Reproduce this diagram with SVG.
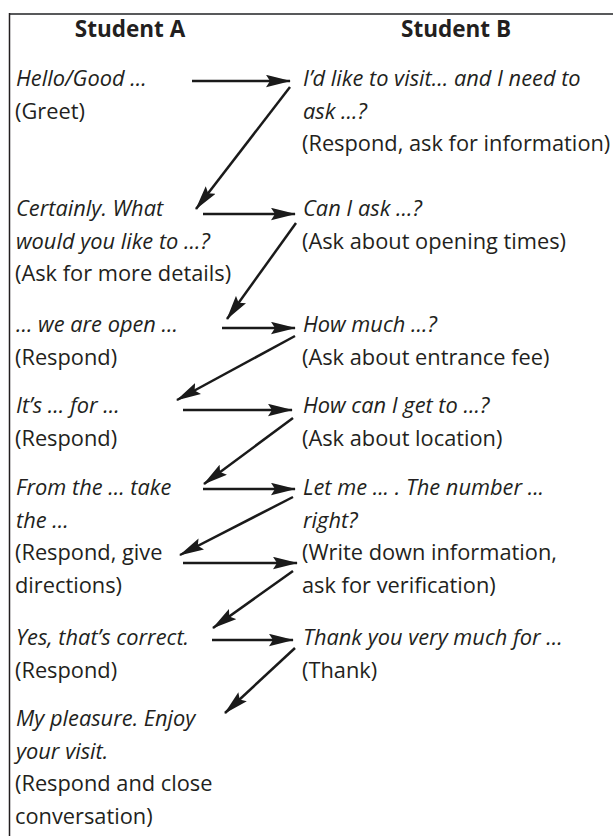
<svg xmlns="http://www.w3.org/2000/svg" width="613" height="836" viewBox="0 0 613 836">
<style>
text{font-family:"Open Sans","Noto Sans","Liberation Sans",sans-serif;font-size:21.8px;fill:#231f20}
.h{font-weight:bold;text-anchor:middle;font-size:22.5px}
.i{font-style:italic}
.c line{stroke:#1a1a1a;stroke-width:2.5;marker-end:url(#ah)}
</style>
<defs>
<marker id="ah" markerUnits="userSpaceOnUse" markerWidth="25" markerHeight="13" viewBox="0 0 25 13" refX="24" refY="6.5" orient="auto">
<path d="M25,6.5 L0,0.3 L4,6.5 L0,12.7 Z" fill="#1a1a1a"/>
</marker>
</defs>
<rect width="613" height="836" fill="#fff"/>
<g id="frame">
<line x1="9" y1="14" x2="613" y2="14" stroke="#58595b" stroke-width="2"/>
<line x1="9.5" y1="13" x2="9.5" y2="836" stroke="#231f20" stroke-width="1.5"/>
</g>
<g id="headers">
<text class="h" x="130" y="37">Student A</text>
<text class="h" x="456" y="37">Student B</text>
</g>
<g id="a1"><text class="i" x="16" y="86">Hello/Good ...</text><text x="15" y="118.5">(Greet)</text></g>
<g id="b1"><text class="i" x="303" y="86">I’d like to visit… and I need to</text><text class="i" x="303" y="118.5">ask ...?</text><text x="302" y="151">(Respond, ask for information)</text></g>
<g id="a2"><text class="i" x="16" y="216">Certainly. What</text><text class="i" x="16" y="248.5">would you like to ...?</text><text x="15" y="281">(Ask for more details)</text></g>
<g id="b2"><text class="i" x="303" y="216">Can I ask ...?</text><text x="302" y="248.5">(Ask about opening times)</text></g>
<g id="a3"><text class="i" x="16" y="332">... we are open ...</text><text x="15" y="364.5">(Respond)</text></g>
<g id="b3"><text class="i" x="303" y="332">How much ...?</text><text x="302" y="364.5">(Ask about entrance fee)</text></g>
<g id="a4"><text class="i" x="16" y="413">It’s ... for ...</text><text x="15" y="445.5">(Respond)</text></g>
<g id="b4"><text class="i" x="303" y="413">How can I get to ...?</text><text x="302" y="445.5">(Ask about location)</text></g>
<g id="a5"><text class="i" x="16" y="495">From the ... take</text><text class="i" x="16" y="527.5">the ...</text><text x="15" y="560">(Respond, give</text><text x="15" y="592.5">directions)</text></g>
<g id="b5"><text class="i" x="303" y="495">Let me ... . The number ...</text><text class="i" x="303" y="527.5">right?</text><text x="302" y="560">(Write down information,</text><text x="302" y="592.5">ask for verification)</text></g>
<g id="a6"><text class="i" x="16" y="645">Yes, that’s correct.</text><text x="15" y="677.5">(Respond)</text></g>
<g id="b6"><text class="i" x="303" y="645">Thank you very much for ...</text><text x="302" y="677.5">(Thank)</text></g>
<g id="a7"><text class="i" x="16" y="726">My pleasure. Enjoy</text><text class="i" x="16" y="758.5">your visit.</text><text x="15" y="791">(Respond and close</text><text x="15" y="823.5">conversation)</text></g>
<g class="c" id="connectors">
<line x1="192" y1="81" x2="290" y2="81"/>
<line x1="290" y1="87" x2="196" y2="209"/>
<line x1="203" y1="214" x2="295" y2="214"/>
<line x1="296" y1="223" x2="227" y2="319"/>
<line x1="222" y1="328" x2="295" y2="328"/>
<line x1="295" y1="336" x2="177" y2="400"/>
<line x1="183" y1="410" x2="292" y2="410"/>
<line x1="293" y1="418" x2="204" y2="484"/>
<line x1="203" y1="489" x2="295" y2="489"/>
<line x1="293" y1="497" x2="180" y2="555"/>
<line x1="183" y1="563" x2="297" y2="563"/>
<line x1="293" y1="571" x2="213" y2="628"/>
<line x1="212" y1="640" x2="293" y2="640"/>
<line x1="295" y1="648" x2="225" y2="713"/>
</g>
</svg>
